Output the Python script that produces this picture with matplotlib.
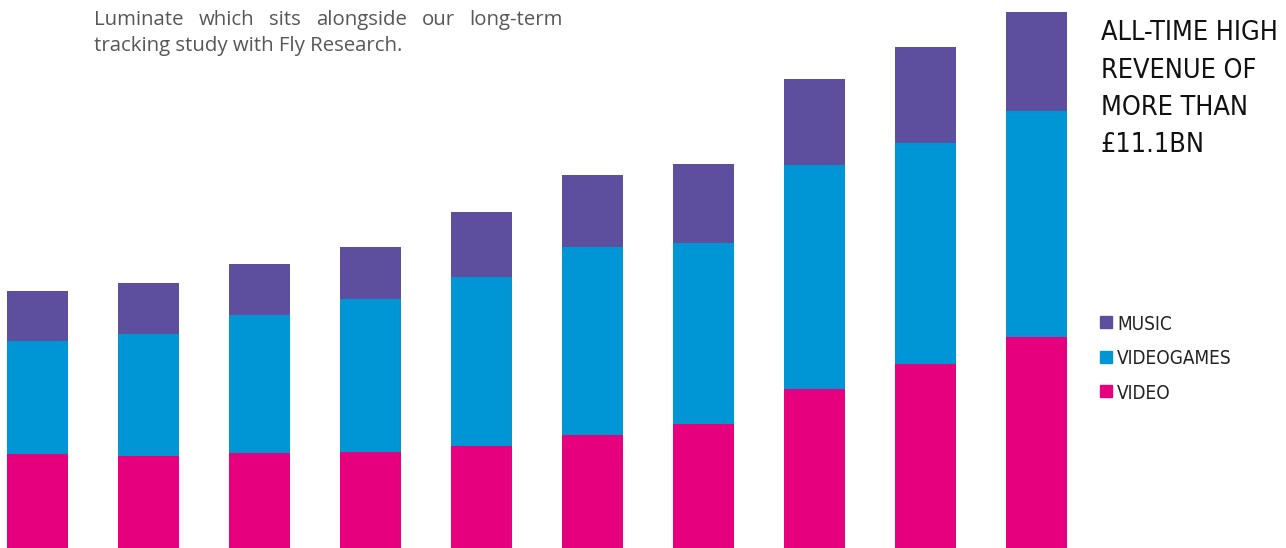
import matplotlib.pyplot as plt
from matplotlib.patches import Rectangle

# revenue by year, £bn
years = [2012, 2013, 2014, 2015, 2016, 2017, 2018, 2019, 2020, 2021]
video = [1.95, 1.91, 1.97, 1.99, 2.12, 2.34, 2.57, 3.29, 3.82, 4.37]
videogames = [2.33, 2.53, 2.86, 3.17, 3.49, 3.89, 3.75, 4.64, 4.57, 4.68]
music = [1.04, 1.04, 1.06, 1.08, 1.35, 1.49, 1.64, 1.78, 1.99, 2.05]

series_names = ["MUSIC", "VIDEOGAMES", "VIDEO"]
c_music = "#5d4f9d"
c_games = "#0096d6"
c_video = "#e6007e"

cond = dict(family=["DejaVu Sans"], fontstretch="condensed")

W, H = 1286, 548
fig = plt.figure(figsize=(W / 100, H / 100), dpi=100)
ax = fig.add_axes([0, 0, 1, 1])
ax.axis("off")

x = list(range(len(years)))
bot2 = [a + b for a, b in zip(video, videogames)]
ax.bar(x, video, width=0.55, color=c_video)
ax.bar(x, videogames, width=0.55, bottom=video, color=c_games)
ax.bar(x, music, width=0.55, bottom=bot2, color=c_music)

scale = 536 / 11.1  # px per £bn
ax.set_xlim(-37.5 / 111, (W - 37.5) / 111)
ax.set_ylim(0, H / scale)

renderer = fig.canvas.get_renderer()


def px(xp, yp):
    return xp / W, 1 - yp / H


def fit(t, target, maxsize):
    # shrink/grow font so the text spans target px
    w = t.get_window_extent(renderer).width
    t.set_fontsize(min(maxsize, t.get_fontsize() * target / w))


# justified intro text
para = dict(family=["Open Sans", "DejaVu Sans"], fontsize=13.3, color="#575757")
left, right = 94, 563
l2 = fig.text(*px(left, 51), "tracking study with Fly Research.", va="baseline", **para)
fit(l2, 310, 15)
para["fontsize"] = l2.get_fontsize()
line1 = "Luminate which sits alongside our long-term".split()
texts = [fig.text(0, 0, w, va="baseline", **para) for w in line1]
widths = [t.get_window_extent(renderer).width for t in texts]
gap = (right - left - sum(widths)) / (len(line1) - 1)
cur = left
for t, wd in zip(texts, widths):
    t.set_position(px(cur, 25))
    cur += wd + gap

# headline
head = ["ALL-TIME HIGH", "REVENUE OF", "MORE THAN", "£11.1BN"]
h0 = fig.text(*px(1101, 40), head[0], va="baseline", fontsize=24, color="#111111", **cond)
fit(h0, 178, 24)
for i, line in enumerate(head[1:], 1):
    fig.text(*px(1101, 40 + i * 37.5), line, va="baseline", fontsize=h0.get_fontsize(),
             color="#111111", **cond)

# legend
colors = [c_music, c_games, c_video]
size = None
for i, (name, c) in enumerate(zip(series_names, colors)):
    yc = 322 + i * 34.5
    fig.patches.append(Rectangle(px(1100, yc + 6), 12 / W, 12 / H, color=c,
                                 transform=fig.transFigure))
    t = fig.text(*px(1117, yc + 8), name, va="baseline", fontsize=16, color="#222222", **cond)
    if size is None:
        fit(t, 55, 16)
        size = t.get_fontsize()
    t.set_fontsize(size)

fig.savefig("out.png", dpi=100)
